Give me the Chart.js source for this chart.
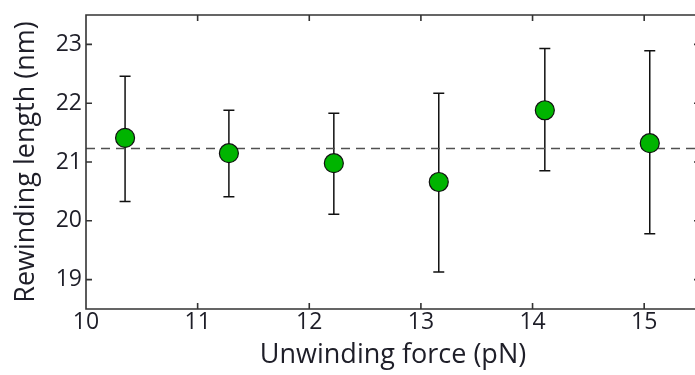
<!DOCTYPE html>
<html>
<head>
<meta charset="utf-8">
<script src="https://cdn.jsdelivr.net/npm/chart.js@4.4.0/dist/chart.umd.min.js"></script>
<style>
  html, body { margin: 0; padding: 0; background: #fff; overflow: hidden; }
  #wrap { position: relative; width: 695px; height: 375px; overflow: hidden; }
</style>
</head>
<body>
<div id="wrap"><canvas id="chart" width="700" height="375"></canvas></div>
<script>
/* values */
const forces   = [10.35, 11.28, 12.22, 13.16, 14.11, 15.05];
const lengths  = [21.41, 21.15, 20.98, 20.66, 21.88, 21.32];
const errLow   = [20.33, 20.41, 20.11, 19.13, 20.85, 19.78];
const errHigh  = [22.46, 21.88, 21.83, 22.17, 22.93, 22.89];
const meanLength = 21.23;
const xTicks = [10, 11, 12, 13, 14, 15];
const yTicks = [19, 20, 21, 22, 23];
const xRange = [10, 15.5];
const yRange = [18.5, 23.5];

const FONT = "'Open Sans', 'DejaVu Sans', sans-serif";
const TEXT = "#1e1e28";
const AXIS = "#333";

/* error bars under the markers, frame + inward ticks on top */
const errorBars = {
  id: "errorBars",
  beforeDatasetsDraw(chart) {
    const { ctx, scales: { x, y } } = chart;
    ctx.save();
    ctx.strokeStyle = "#111";
    ctx.lineWidth = 1.5;
    forces.forEach((f, i) => {
      const px = x.getPixelForValue(f);
      const lo = y.getPixelForValue(errLow[i]);
      const hi = y.getPixelForValue(errHigh[i]);
      ctx.beginPath();
      ctx.moveTo(px, lo); ctx.lineTo(px, hi);
      ctx.moveTo(px - 5.5, lo); ctx.lineTo(px + 5.5, lo);
      ctx.moveTo(px - 5.5, hi); ctx.lineTo(px + 5.5, hi);
      ctx.stroke();
    });
    ctx.restore();
  }
};

const frame = {
  id: "frame",
  afterDraw(chart) {
    const { ctx, chartArea: a, scales: { x, y } } = chart;
    const t = 6;
    ctx.save();
    ctx.strokeStyle = AXIS;
    ctx.lineWidth = 1.6;
    ctx.beginPath();
    ctx.rect(a.left, a.top, a.right - a.left, a.bottom - a.top);
    xTicks.forEach(v => {
      const px = x.getPixelForValue(v);
      ctx.moveTo(px, a.bottom); ctx.lineTo(px, a.bottom - t);
      ctx.moveTo(px, a.top); ctx.lineTo(px, a.top + t);
    });
    yTicks.forEach(v => {
      const py = y.getPixelForValue(v);
      ctx.moveTo(a.left, py); ctx.lineTo(a.left + t, py);
      ctx.moveTo(a.right, py); ctx.lineTo(a.right - t, py);
    });
    ctx.stroke();
    ctx.restore();
  }
};

new Chart(document.getElementById("chart"), {
  type: "scatter",
  data: {
    datasets: [
      {
        label: "Rewinding length",
        data: forces.map((f, i) => ({ x: f, y: lengths[i] })),
        backgroundColor: "#00b400",
        borderColor: "#111",
        borderWidth: 1.2,
        pointRadius: 9.5,
        pointHoverRadius: 9.5
      },
      {
        type: "line",
        label: "Mean",
        data: xRange.map(v => ({ x: v, y: meanLength })),
        borderColor: "#505050",
        borderWidth: 1.6,
        borderDash: [9, 6],
        pointRadius: 0,
        fill: false
      }
    ]
  },
  options: {
    responsive: false,
    animation: false,
    events: [],
    layout: { autoPadding: false, padding: { top: 15, right: 0, left: 0, bottom: 0 } },
    plugins: { legend: { display: false }, tooltip: { enabled: false } },
    scales: {
      x: {
        type: "linear",
        min: xRange[0], max: xRange[1],
        afterBuildTicks: s => { s.ticks = xTicks.map(v => ({ value: v })); },
        afterFit: s => { s.height = 66; s.paddingLeft = 0; s.paddingRight = 0; },
        grid: { display: false, drawTicks: false },
        border: { display: false },
        ticks: { color: TEXT, font: { family: FONT, size: 23 }, padding: 0 },
        title: {
          display: true, text: "Unwinding force (pN)", color: TEXT,
          font: { family: FONT, size: 27 }, padding: { top: 0, bottom: 3 }
        }
      },
      y: {
        min: yRange[0], max: yRange[1],
        afterBuildTicks: s => { s.ticks = yTicks.map(v => ({ value: v })); },
        afterFit: s => { s.width = 86; s.paddingTop = 0; s.paddingBottom = 0; },
        grid: { display: false, drawTicks: false },
        border: { display: false },
        ticks: { color: TEXT, font: { family: FONT, size: 23 }, padding: 4 },
        title: {
          display: true, text: "Rewinding length (nm)", color: TEXT,
          font: { family: FONT, size: 27 }, padding: { top: 10, bottom: 0 }
        }
      }
    }
  },
  plugins: [errorBars, frame]
});
</script>
</body>
</html>
